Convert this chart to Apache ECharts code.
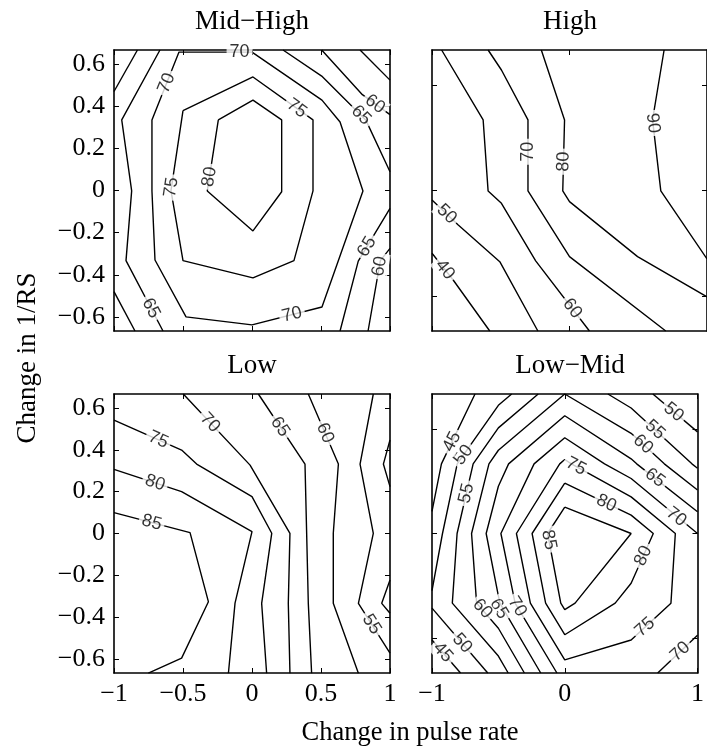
<!DOCTYPE html>
<html>
<head>
<meta charset="utf-8">
<script src="https://cdn.jsdelivr.net/npm/echarts@6/dist/echarts.min.js"></script>
<style>
  html, body { margin: 0; padding: 0; background: #fff; }
  #chart { width: 707px; height: 751px; }
</style>
</head>
<body>
<div id="chart"></div>
<script>
const panelTitles = ['Mid−High', 'High', 'Low', 'Low−Mid'];

const xTicksLeft = [-1, -0.5, 0, 0.5, 1];
const xTicksRight = [-1, 0, 1];
const yTicksLeft = [-0.6, -0.4, -0.2, 0, 0.2, 0.4, 0.6];
const yTicksRight = [-0.5, 0, 0.5];

// contour lines: [level, [[pulse rate, 1/RS], ...]]
const midHighLines = [
  [80, [[-0.244, 0.335], [0.007, 0.429], [0.215, 0.335], [0.215, -0.006], [0.007, -0.192], [-0.324, -0.002], [-0.244, 0.335]]],
  [75, [[-0.5, 0.379], [0.007, 0.539], [0.442, 0.335], [0.442, -0.002], [0.304, -0.333], [0.007, -0.415], [-0.5, -0.333], [-0.587, -0.001], [-0.5, 0.379]]],
  [70, [[0, 0.657], [-0.529, 0.657], [-0.725, 0.335], [-0.725, -0.002], [-0.703, -0.33], [-0.478, -0.6], [0, -0.638], [0.507, -0.553], [0.804, -0.002], [0.638, 0.325], [0.507, 0.429], [0, 0.657]]],
  [65, [[-0.667, 0.667], [-0.944, 0.335], [-0.872, -0.002], [-0.913, -0.333], [-0.645, -0.667]]],
  [65, [[0.225, 0.667], [0.505, 0.543], [0.826, 0.333], [1, 0.089]]],
  [65, [[1, -0.085], [0.77, -0.335], [0.638, -0.667]]],
  [60, [[-1, 0.47], [-0.83, 0.667]]],
  [60, [[-1, -0.48], [-0.848, -0.667]]],
  [60, [[0.505, 0.667], [0.8, 0.455], [1, 0.36]]],
  [60, [[1, -0.275], [0.93, -0.333], [0.841, -0.667]]],
  [55, [[0.783, 0.667], [1, 0.524]]]
];
const midHighLabels = [
  [80, -0.308, 0.065],
  [75, 0.324, 0.39], [75, -0.584, 0.015],
  [70, -0.618, 0.51], [70, -0.09, 0.657], [70, 0.29, -0.589],
  [65, -0.732, -0.559], [65, 0.79, 0.357], [65, 0.833, -0.267],
  [60, 0.891, 0.41], [60, 0.925, -0.36]
];

const highLines = [
  [60, [[-0.93, 0.667], [-0.628, 0.335], [-0.592, -0.002], [-0.495, -0.061], [-0.246, -0.334], [0.145, -0.667]]],
  [70, [[-0.592, 0.667], [-0.495, 0.572], [-0.302, 0.335], [-0.302, -0.002], [0, -0.314], [0.7, -0.667]]],
  [80, [[-0.205, 0.667], [-0.036, 0.335], [-0.049, -0.002], [0, -0.053], [0.495, -0.314], [1, -0.505]]],
  [90, [[0.688, 0.667], [0.604, 0.335], [0.664, -0.002], [1, -0.325]]],
  [50, [[-1, -0.045], [-0.809, -0.164], [-0.507, -0.338], [-0.23, -0.667]]],
  [40, [[-1, -0.298], [-0.846, -0.425], [-0.58, -0.667]]]
];
const highLabels = [
  [60, 0.02, -0.56], [70, -0.302, 0.184], [80, -0.044, 0.137],
  [90, 0.606, 0.32], [50, -0.893, -0.112], [40, -0.906, -0.376]
];

const lowLines = [
  [85, [[-1, 0.1], [-0.449, 0.004], [-0.316, -0.326], [-0.51, -0.596], [-0.751, -0.668]]],
  [80, [[-1, 0.307], [-0.51, 0.2], [0, 0.009], [-0.123, -0.333], [-0.171, -0.668]]],
  [75, [[-1, 0.542], [-0.51, 0.399], [-0.401, 0.332], [0, 0.176], [0.143, 0.001], [0.07, -0.334], [0.106, -0.668]]],
  [70, [[-0.498, 0.667], [-0.014, 0.327], [0.275, 0.001], [0.263, -0.334], [0.275, -0.668]]],
  [65, [[0.046, 0.667], [0.384, 0.332], [0.396, 0.001], [0.408, -0.334], [0.432, -0.668]]],
  [60, [[0.408, 0.667], [0.626, 0.332], [0.589, 0.001], [0.589, -0.334], [0.771, -0.668]]],
  [55, [[0.879, 0.667], [0.783, 0.332], [0.879, 0.001], [0.771, -0.334], [1, -0.572]]],
  [50, [[1, 0.447], [0.952, 0.332], [1, 0.224]]],
  [50, [[1, -0.222], [0.94, -0.334], [1, -0.381]]]
];
const lowLabels = [
  [85, -0.727, 0.052], [80, -0.703, 0.242], [75, -0.679, 0.448],
  [70, -0.304, 0.53], [65, 0.203, 0.51], [60, 0.53, 0.48], [55, 0.867, -0.434]
];

const lowMidLines = [
  [85, [[0, 0.126], [0.5, 0], [0.078, -0.333], [0, -0.364], [-0.03, -0.333], [-0.129, 0], [0, 0.126]]],
  [80, [[0, 0.241], [0.5, 0.088], [0.667, 0], [0.5, -0.238], [0.38, -0.333], [0, -0.484], [-0.144, -0.333], [-0.246, 0], [0, 0.241]]],
  [75, [[0, 0.354], [0.05, 0.333], [0.5, 0.175], [0.833, 0], [0.8, -0.333], [0.5, -0.509], [0, -0.604], [-0.259, -0.333], [-0.364, 0], [-0.038, 0.333], [0, 0.354]]],
  [70, [[-0.059, -0.667], [-0.374, -0.333], [-0.481, 0], [-0.231, 0.333], [0, 0.458], [0.3, 0.333], [0.5, 0.263], [1, 0]]],
  [70, [[0.7, -0.667], [1, -0.487]]],
  [65, [[-0.181, -0.667], [-0.489, -0.333], [-0.5, -0.298], [-0.592, 0], [-0.5, 0.226], [-0.423, 0.333], [0, 0.563], [0.5, 0.357], [0.542, 0.333], [1, 0.104]]],
  [60, [[-0.304, -0.667], [-0.5, -0.453], [-0.664, -0.333], [-0.702, 0], [-0.571, 0.333], [-0.5, 0.398], [0, 0.667], [0.5, 0.479], [0.75, 0.333], [1, 0.208]]],
  [55, [[-0.426, -0.667], [-0.5, -0.586], [-0.847, -0.333], [-0.811, 0], [-0.69, 0.333], [-0.5, 0.505], [-0.2, 0.667]]],
  [55, [[0.325, 0.667], [0.5, 0.6], [0.958, 0.333], [1, 0.312]]],
  [50, [[-0.58, -0.667], [-1, -0.357]]],
  [50, [[-1, -0.273], [-0.921, 0], [-0.81, 0.333], [-0.5, 0.613], [-0.4, 0.667]]],
  [50, [[0.664, 0.667], [1, 0.486]]],
  [45, [[-0.785, -0.667], [-1, -0.509]]],
  [45, [[-1, 0.106], [-0.929, 0.333], [-0.676, 0.667]]]
];
const lowMidLabels = [
  [85, -0.12, -0.03],
  [80, 0.314, 0.145], [80, 0.592, -0.107],
  [75, 0.085, 0.321], [75, 0.604, -0.448],
  [70, -0.358, -0.35], [70, 0.84, 0.08], [70, 0.87, -0.565],
  [65, -0.495, -0.36], [65, 0.68, 0.266],
  [60, -0.62, -0.36], [60, 0.59, 0.426],
  [55, -0.741, 0.192], [55, 0.68, 0.496],
  [50, -0.763, 0.375], [50, -0.773, -0.525], [50, 0.82, 0.58],
  [45, -0.849, 0.439], [45, -0.918, -0.569]
];

const Y_MIN = -0.667, Y_MAX = 0.667;
const panels = [
  { left: 114, top: 50, width: 276, height: 281, lines: midHighLines, labels: midHighLabels, xTicks: xTicksLeft, yTicks: yTicksLeft, showX: false, showY: true },
  { left: 432, top: 50, width: 276, height: 281, lines: highLines, labels: highLabels, xTicks: xTicksRight, yTicks: yTicksRight, showX: false, showY: false },
  { left: 114, top: 394, width: 276, height: 279, lines: lowLines, labels: lowLabels, xTicks: xTicksLeft, yTicks: yTicksLeft, showX: true, showY: true },
  { left: 432, top: 394, width: 276, height: 279, lines: lowMidLines, labels: lowMidLabels, xTicks: xTicksRight, yTicks: yTicksRight, showX: true, showY: false }
];

const serif = '"Liberation Serif", "DejaVu Serif", serif';
const tickFmt = v => (v < 0 ? '−' + Math.abs(v) : String(v));

// label angle follows the nearest stretch of its own contour
function labelAngle(p, level, x, y) {
  const kx = p.width / 2, ky = p.height / (Y_MAX - Y_MIN);
  let best = [1, 0], bestD = Infinity;
  const px = x * kx, py = -y * ky;
  p.lines.forEach(([lv, pts]) => {
    if (lv !== level) return;
    for (let k = 0; k < pts.length - 1; k++) {
      const ax = pts[k][0] * kx, ay = -pts[k][1] * ky;
      const dx = pts[k + 1][0] * kx - ax, dy = -pts[k + 1][1] * ky - ay;
      const len2 = dx * dx + dy * dy || 1;
      let t = ((px - ax) * dx + (py - ay) * dy) / len2;
      t = Math.max(0, Math.min(1, t));
      const d = (px - ax - t * dx) ** 2 + (py - ay - t * dy) ** 2;
      if (d < bestD) { bestD = d; best = [dx, dy]; }
    }
  });
  let a = Math.atan2(-best[1], best[0]) * 180 / Math.PI;
  if (a > 90) a -= 180;
  if (a <= -90) a += 180;
  return a;
}

const grid = [], xAxis = [], yAxis = [], series = [];
const frame = { show: true, onZero: false, lineStyle: { color: '#000', width: 1.6 } };

panels.forEach((p, i) => {
  grid.push({ left: p.left, top: p.top, width: p.width, height: p.height, containLabel: false });
  ['bottom', 'top'].forEach((pos, j) => {
    xAxis.push({
      gridIndex: i, type: 'value', min: -1, max: 1, position: pos,
      axisLine: frame,
      axisTick: { show: true, inside: true, length: 5, customValues: p.xTicks, lineStyle: { color: '#000', width: 1 } },
      axisLabel: {
        show: j === 0 && p.showX, customValues: p.xTicks, formatter: tickFmt, margin: 8,
        color: '#000', fontFamily: serif, fontSize: 26
      },
      splitLine: { show: false }
    });
  });
  ['left', 'right'].forEach((pos, j) => {
    yAxis.push({
      gridIndex: i, type: 'value', min: Y_MIN, max: Y_MAX, position: pos,
      axisLine: frame,
      axisTick: { show: true, inside: true, length: 5, customValues: p.yTicks, lineStyle: { color: '#000', width: 1 } },
      axisLabel: {
        show: j === 0 && p.showY, customValues: p.yTicks, formatter: tickFmt, margin: 9,
        color: '#000', fontFamily: serif, fontSize: 26
      },
      splitLine: { show: false }
    });
  });

  p.lines.forEach(([level, pts]) => {
    series.push({
      type: 'line', name: 'c' + level, xAxisIndex: 2 * i, yAxisIndex: 2 * i,
      data: pts, symbol: 'none', showSymbol: false, silent: true, z: 2,
      lineStyle: { color: '#000', width: 1.4 }
    });
  });

  series.push({
    type: 'scatter', xAxisIndex: 2 * i, yAxisIndex: 2 * i, symbolSize: 1, silent: true, z: 5,
    itemStyle: { color: 'rgba(0,0,0,0)' },
    label: {
      show: true, position: 'inside', formatter: '{b}',
      color: '#000', fontFamily: '"Liberation Sans", Arial, sans-serif', fontSize: 18,
      backgroundColor: '#fff', padding: [0, 3]
    },
    data: p.labels.map(([lv, x, y]) => ({
      name: String(lv), value: [x, y], label: { rotate: labelAngle(p, lv, x, y) }
    }))
  });
});

const titleCenters = [[252, 22], [570, 22], [252, 366], [570, 366]];
const textStyle = (t, size) => ({
  text: t, font: size + 'px ' + serif, fill: '#000',
  textAlign: 'center', textVerticalAlign: 'middle', verticalAlign: 'middle'
});
const graphic = panelTitles.map((t, i) => ({
  type: 'text', x: titleCenters[i][0], y: titleCenters[i][1], style: textStyle(t, 27)
}));
graphic.push({ type: 'text', x: 410, y: 733, style: textStyle('Change in pulse rate', 26.5) });
graphic.push({ type: 'text', x: 28, y: 358, rotation: Math.PI / 2, style: textStyle('Change in 1/RS', 27) });

const chart = echarts.init(document.getElementById('chart'));
chart.setOption({
  backgroundColor: '#fff',
  animation: false,
  grid, xAxis, yAxis, series, graphic
});
</script>
</body>
</html>
